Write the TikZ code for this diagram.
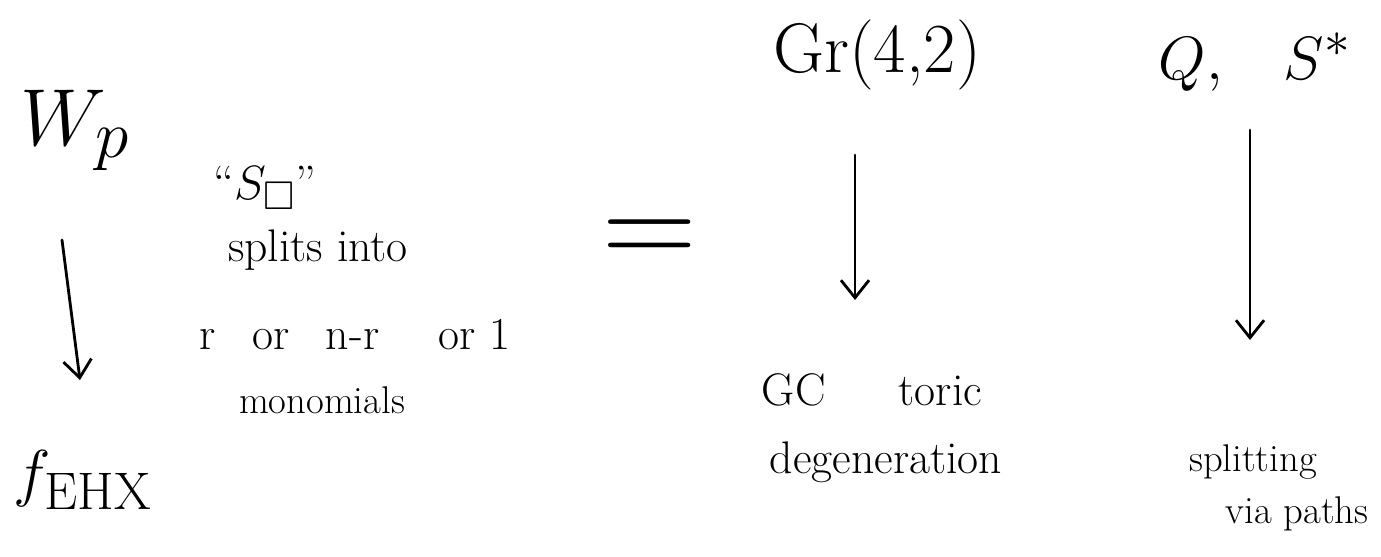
\documentclass[tikz,border=0pt]{standalone}
\usepackage{amssymb}
\usepackage{graphicx}
\usetikzlibrary{arrows.meta}
\begin{document}
\begin{tikzpicture}[x=0.02cm,y=-0.02cm,
  ink/.style={line width=1.6pt, line cap=round, -{Straight Barb[length=10pt,width=16pt,line width=1.6pt]}},
  big/.style={font=\fontsize{24.88}{28}\selectfont, inner sep=0pt},
  hand/.style={font=\fontsize{26}{30}\selectfont, inner sep=0pt},
  small/.style={font=\fontsize{22}{26}\selectfont, inner sep=0pt}]
\useasboundingbox (0,0) rectangle (1381,557);
% left column
\node[big] (wp) at (75,130) {\scalebox{1.85}{$W_p$}};
\node[big] (fehx) at (83,480) {\scalebox{1.45}{$f_{\mathrm{EHX}}$}};
\draw[ink] (62,240) -- (80,380);
% middle text
\node[big] (sq) at (265,188) {\scalebox{1.1}{``$S_{\square}$''}};
\node[hand] (split) at (318,250) {splits into};
\node[hand] (ror) at (355,335) {r\hspace{0.8em}or\hspace{0.8em}n-r\hspace{1.3em}or\hspace{0.3em}1};
\node[small] (mono) at (322,400) {monomials};
\node[big] (eq) at (650,243) {\scalebox{3}{$=$}};
% Gr(4,2) column
\node[font=\fontsize{40}{44}\selectfont, inner sep=0pt] (gr) at (877,55) {Gr(4,2)};
\draw[ink] (855,155) -- (855,300);
\node[hand] (gc) at (872,390) {GC\hspace{1.6em}toric};
\node[hand] (deg) at (886,462) {degeneration};
% right column
\node[big] (qs) at (1255,62) {\scalebox{1.4}{$Q,\;\;\;S^{*}$}};
\draw[ink] (1250,130) -- (1250,340);
\node[small] (spl) at (1253,462) {splitting};
\node[small] (via) at (1297,514) {via paths};
\end{tikzpicture}
\end{document}
